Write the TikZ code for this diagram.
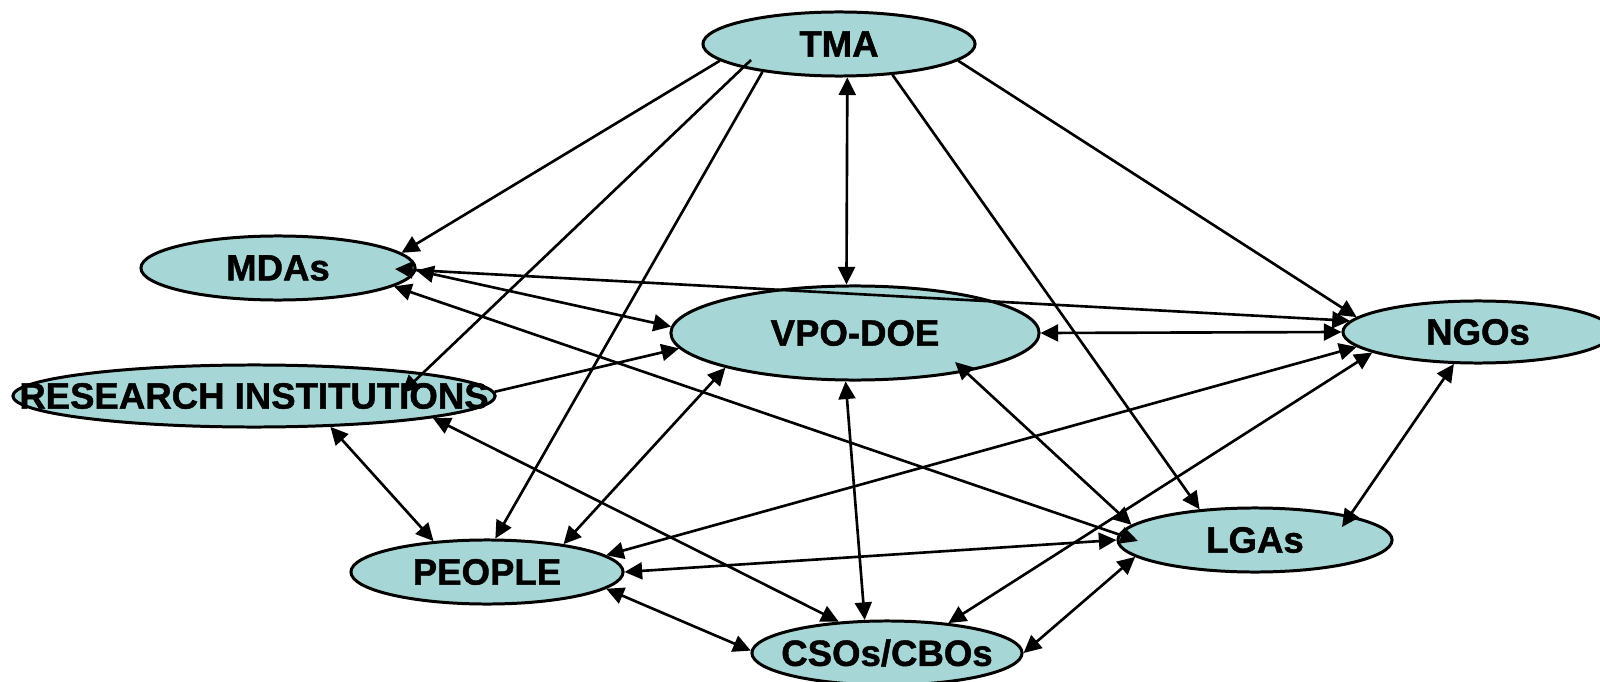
\documentclass[tikz,border=0pt]{standalone}
\usepackage{fontspec}
\setmainfont{Liberation Sans}[BoldFeatures={FakeBold=1.2}]
\usetikzlibrary{shapes.geometric,arrows.meta,calc}
\definecolor{agencyfill}{RGB}{166,214,214}
\tikzset{
  agency/.style={ellipse, draw, line width=0.85pt, fill=agencyfill, inner sep=0pt, minimum height=0.64cm},
  every label/.style={font=\bfseries\fontsize{10.4}{12}\selectfont, inner sep=0pt},
}

\begin{document}
\begin{tikzpicture}[x=0.01cm, y=-0.01cm, line width=0.75pt, >={Triangle[length=5pt,width=4.8pt]}]
\useasboundingbox (0,0) rectangle (1600,682);
% Agencies
\node[agency, minimum width=2.72cm, label=center:TMA] (tma) at (839,44) {};
\node[agency, minimum width=2.74cm, label=center:MDAs] (mdas) at (278,268) {};
\node[agency, minimum width=3.68cm, minimum height=0.94cm, label=center:VPO-DOE] (vpo) at (855,333) {};
\node[agency, minimum width=2.70cm, minimum height=0.62cm, label=center:NGOs] (ngos) at (1478,332) {};
\node[agency, minimum width=4.82cm, minimum height=0.62cm, label=center:RESEARCH INSTITUTIONS] (ri) at (254,396) {};
\node[agency, minimum width=2.72cm, label=center:PEOPLE] (people) at (487,572) {};
\node[agency, minimum width=2.70cm, label=center:CSOs/CBOs] (csos) at (887,653) {};
\node[agency, minimum width=2.74cm, label=center:LGAs] (lgas) at (1255,540) {};
% Links from TMA
\draw[->] (tma.188) -- (mdas.7);
\draw[->] ($(tma)+(-88,16)$) -- ($(ri)+(148,-3)$);
\draw[->] (tma.200) -- (people.76);
\draw[<->] (tma.284) -- (vpo.100);
\draw[->] (tma.330) -- (lgas.151);
\draw[->] (tma.352) -- (ngos.173);
% Links from MDAs
\draw[<->] (mdas.-1) -- (vpo.178);
\draw[<->] ($(mdas)+(117,1)$) -- (ngos.175);
\draw[<->] (mdas.-9) -- ($(lgas)+(-117,1)$);
% Links from research institutions
\draw[->] (ri.1) -- (vpo.185);
\draw[<->] (ri.-22) -- (people.150);
\draw[<->] (ri.-7) -- (csos.147);
% Links from VPO-DOE
\draw[<->] (vpo.195) -- (people.20);
\draw[<->] (vpo.-101) -- (csos.124);
\draw[<->] ($(vpo)+(100,29)$) -- (lgas.173);
\draw[<->] (vpo.0) -- (ngos.180);
% Links from PEOPLE
\draw[<->] (people.8) -- (ngos.187);
\draw[<->] (people.0) -- (lgas.180);
\draw[<->] (people.-8) -- (csos.179);
% Links from CSOs/CBOs and NGOs
\draw[<->] (csos.26) -- (ngos.191);
\draw[<->] (csos.0) -- (lgas.188);
\draw[<->] (ngos.233) -- ($(lgas)+(87,-13)$);
\end{tikzpicture}
\end{document}
